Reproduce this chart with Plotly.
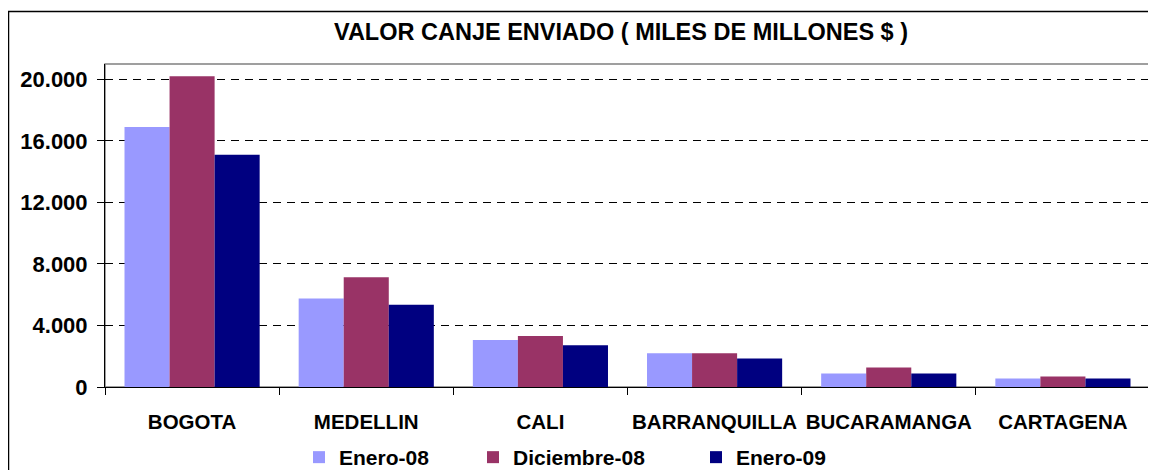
import plotly.graph_objects as go

categories = ["BOGOTA", "MEDELLIN", "CALI", "BARRANQUILLA", "BUCARAMANGA", "CARTAGENA"]
series_names = ["Enero-08", "Diciembre-08", "Enero-09"]
enero_08 = [16900, 5750, 3050, 2190, 880, 550]
diciembre_08 = [20200, 7130, 3310, 2190, 1270, 680]
enero_09 = [15100, 5350, 2720, 1860, 880, 550]
y_ticks = [0, 4000, 8000, 12000, 16000, 20000]
title_text = "VALOR CANJE ENVIADO ( MILES DE MILLONES $ )"

colors = ["#9999FF", "#993366", "#000080"]
FONT = "Liberation Sans, Arial, sans-serif"

# the page body adds an 8px offset; lay out in page pixels and compensate
OFF = 8
W, H = 1156 - OFF, 470 - OFF
ML, MR, MT, MB = 105 - OFF, 6, 64 - OFF, 83
PW = W - ML - MR
PH = H - MT - MB


def px_x(px):
    return (px - OFF - ML) / PW


def px_y(py):
    return (H - MB - (py - OFF)) / PH


fig = go.Figure()
legend_ids = ["legend", "legend2", "legend3"]
for name, vals, col, lg in zip(series_names, [enero_08, diciembre_08, enero_09], colors, legend_ids):
    fig.add_trace(go.Bar(
        x=categories, y=vals, name=name, marker=dict(color=col, line=dict(width=0)),
        legend=lg,
    ))

legend_left_px = [299, 473, 696]
legend_common = dict(
    orientation="h", xanchor="left", yanchor="middle", y=px_y(457.5),
    font=dict(family=FONT, size=21, color="black", weight="bold"), bgcolor="rgba(0,0,0,0)",
    borderwidth=0, itemwidth=30,
)
fig.update_layout(
    legend=dict(x=px_x(legend_left_px[0]), **legend_common),
    legend2=dict(x=px_x(legend_left_px[1]), **legend_common),
    legend3=dict(x=px_x(legend_left_px[2]), **legend_common),
)

fig.update_layout(
    width=W, height=H,
    margin=dict(l=ML, r=MR, t=MT, b=MB, pad=0, autoexpand=False),
    paper_bgcolor="white", plot_bgcolor="white",
    barmode="group", bargap=0.224, bargroupgap=0,
    separators=",.",
    showlegend=True,
    title=dict(text=title_text, x=px_x(621), xanchor="center", xref="paper",
               y=1 - (31.5 - OFF) / H, yanchor="middle",
               font=dict(family=FONT, size=23.5, color="black", weight="bold")),
    font=dict(family=FONT, color="black"),
)

fig.update_xaxes(
    type="category", showgrid=False, showline=True, linecolor="black", linewidth=1,
    ticks="outside", tickson="boundaries", ticklen=7, tickcolor="black", tickwidth=1,
    tickangle=0,
    tickfont=dict(family=FONT, size=20.5, color="black", weight="bold"), ticklabelstandoff=16,
    zeroline=False, fixedrange=True,
)
fig.update_yaxes(
    range=[0, 21000], tickvals=y_ticks, tickformat=",.0f",
    showgrid=True, gridcolor="black", gridwidth=1, griddash="8px,6px",
    showline=True, linecolor="black", linewidth=1,
    ticks="outside", ticklen=7, tickcolor="black", tickwidth=1,
    tickfont=dict(family=FONT, size=22, color="black", weight="bold"), ticklabelstandoff=5,
    zeroline=False, fixedrange=True,
)

# plot area border (gray top and right)
fig.add_shape(type="rect", xref="paper", yref="paper", x0=0, x1=1, y0=0, y1=1,
              line=dict(color="#808080", width=1.5), fillcolor="rgba(0,0,0,0)", layer="below")
# outer chart border
fig.add_shape(type="rect", xref="paper", yref="paper",
              x0=px_x(8.5), x1=px_x(1170), y0=px_y(490), y1=px_y(11.5),
              line=dict(color="black", width=1.5), fillcolor="rgba(0,0,0,0)")

fig.write_html("out.html")
